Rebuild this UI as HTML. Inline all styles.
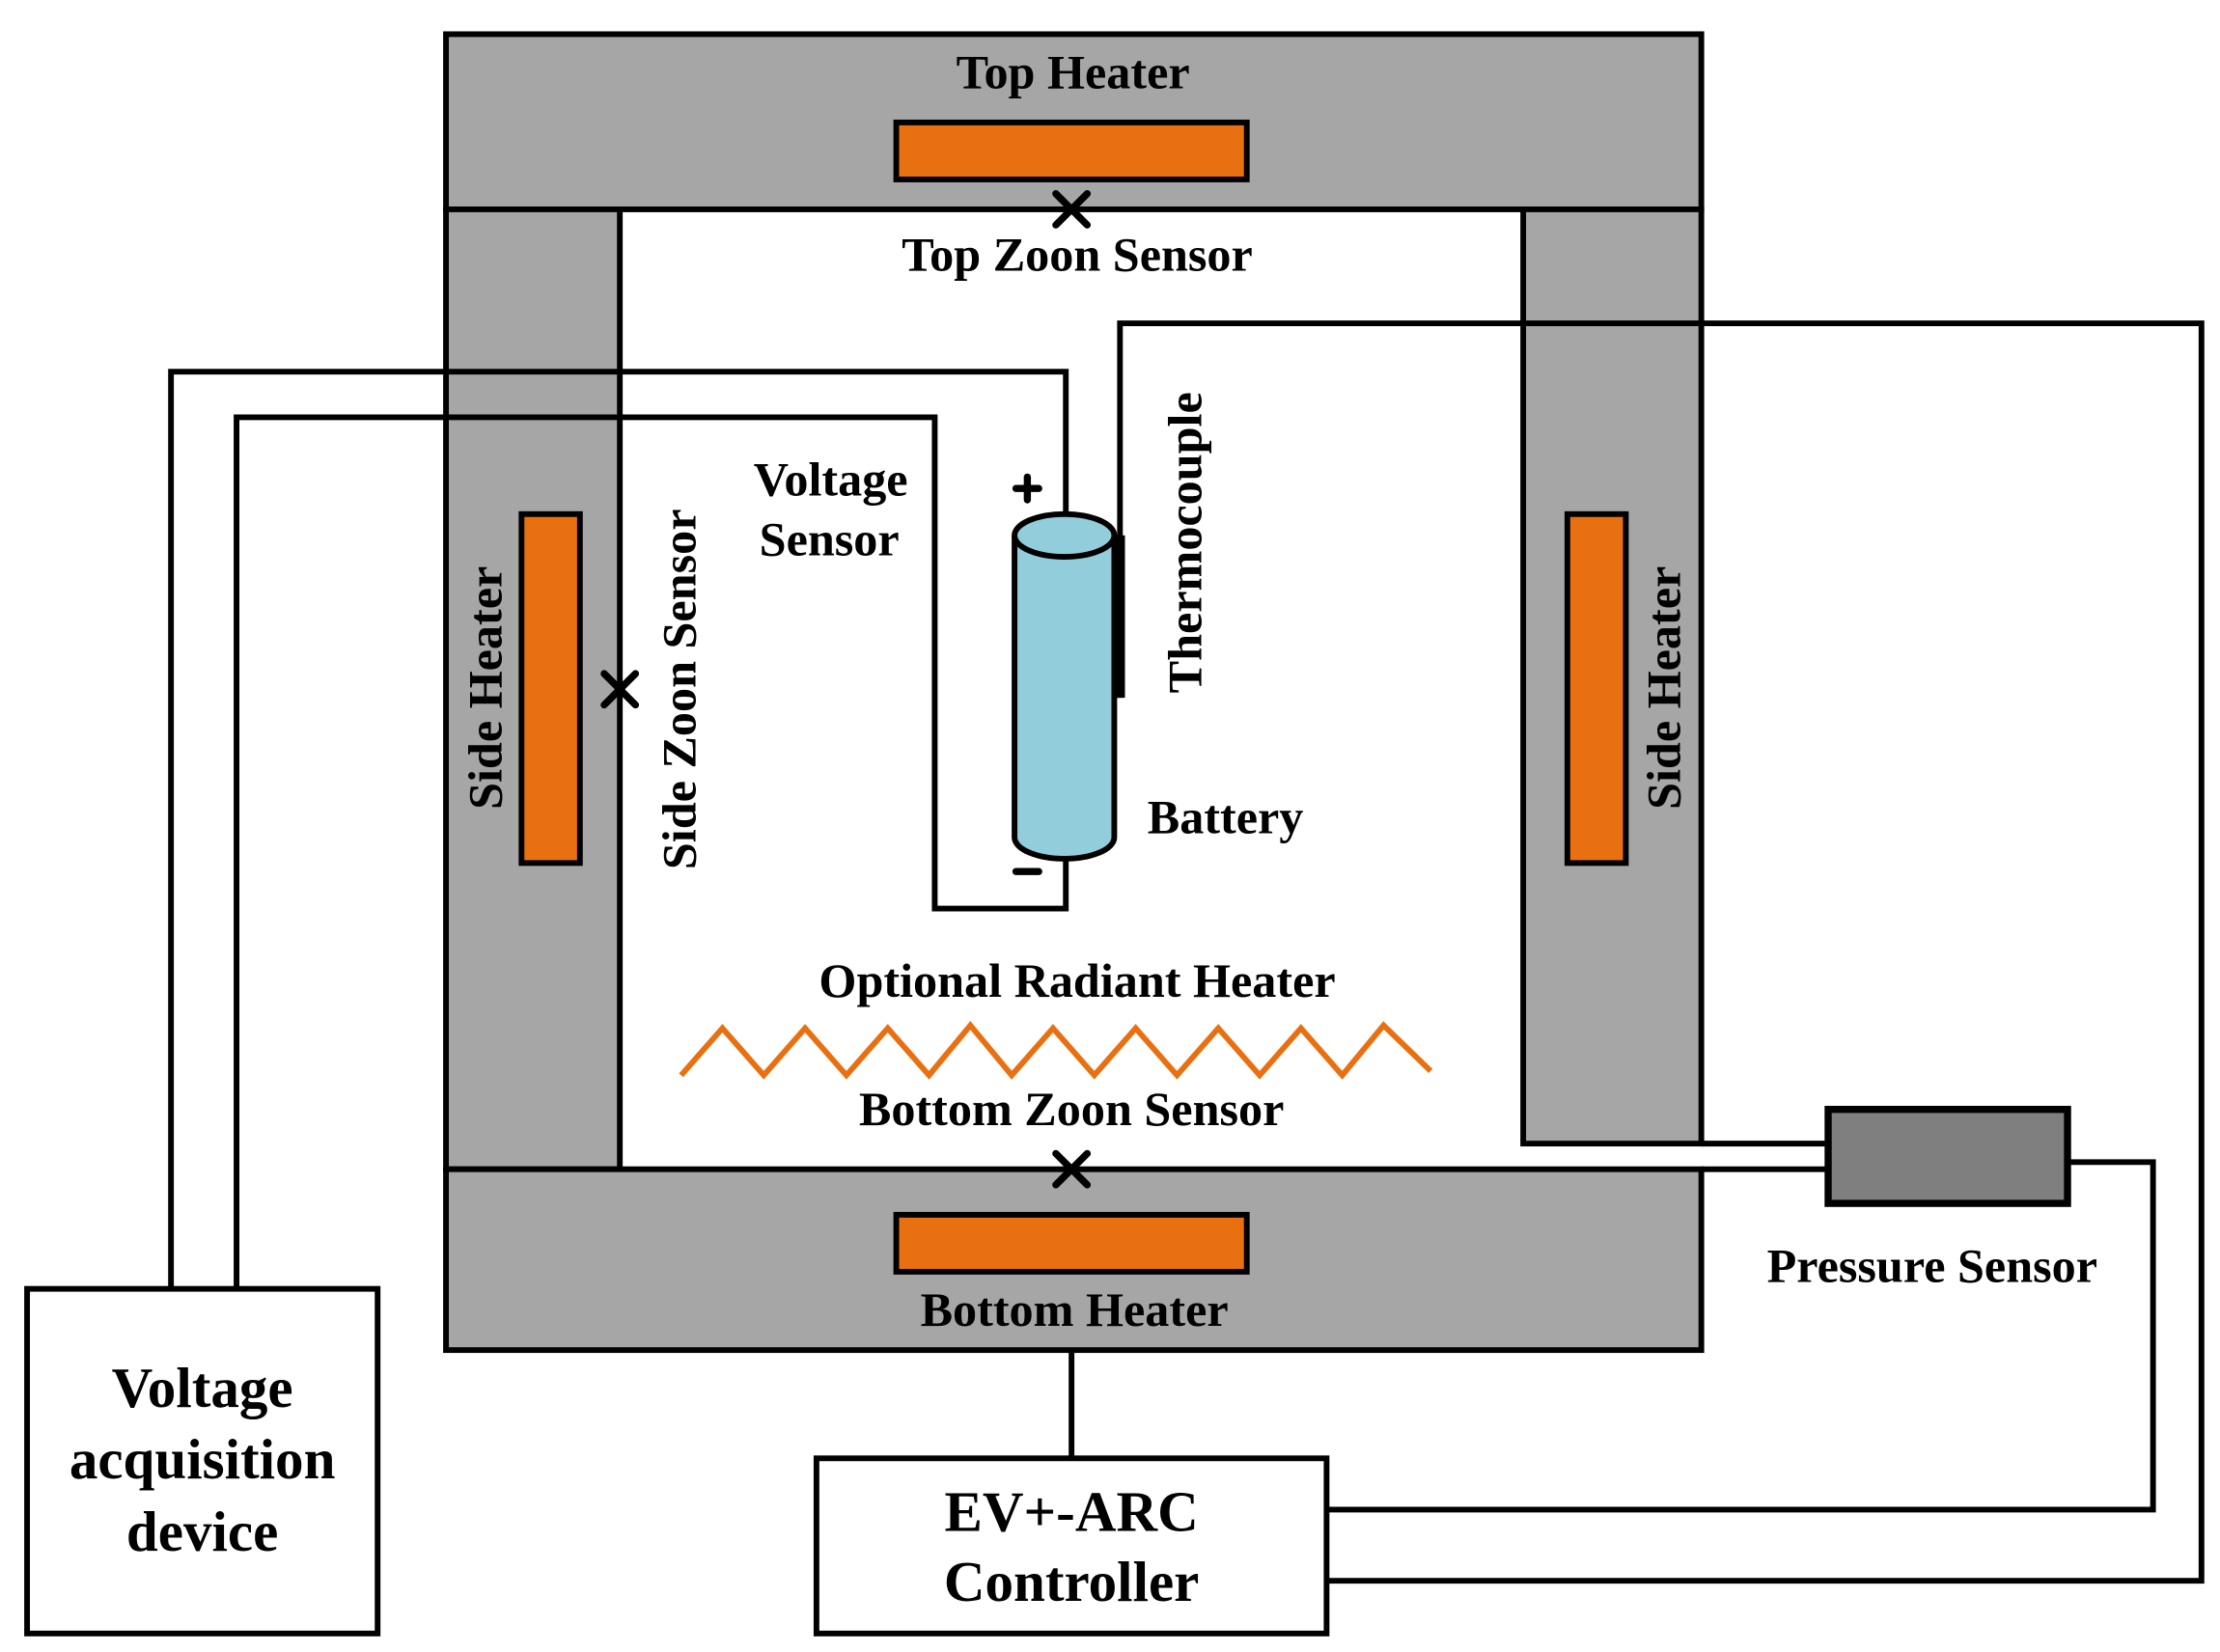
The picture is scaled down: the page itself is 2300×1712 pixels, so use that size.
<!DOCTYPE html>
<html><head><meta charset="utf-8"><style>html,body{margin:0;padding:0;background:#fff}svg{display:block}</style></head>
<body>
<svg width="2300" height="1712" viewBox="0 0 1558 1160" preserveAspectRatio="none" xmlns="http://www.w3.org/2000/svg" font-family="'Liberation Serif', serif" font-weight="bold" font-size="34">
<g stroke="#000" stroke-width="4" fill="#a6a6a6">
<rect x="313" y="24" width="881" height="123"/>
<rect x="313" y="147" width="122" height="674"/>
<rect x="1069" y="147" width="125" height="656"/>
<rect x="313" y="821" width="881" height="127"/>
</g>
<g stroke="#000" stroke-width="4" fill="#e97010">
<rect x="629" y="86" width="246" height="40"/>
<rect x="629" y="853" width="246" height="40"/>
<rect x="366" y="361" width="41" height="245"/>
<rect x="1100" y="361" width="41" height="245"/>
</g>
<g stroke="#000" stroke-width="4" fill="none">
<path d="M1194 803H1283M1194 821H1283"/>
<path d="M748 361V261H120V905"/>
<path d="M748 603V638H656V293H166V905"/>
<path d="M786 490V227H1545V1110H925"/>
<path d="M1451 816H1511V1060H932"/>
<path d="M752 948V1024"/>
</g>
<path d="M786 376V490" stroke="#000" stroke-width="7"/>
<rect x="1283" y="779" width="168" height="66" fill="#7f7f7f" stroke="#000" stroke-width="5"/>
<g stroke="#000" stroke-width="4" fill="#92cddb">
<path d="M712 376V588A35 15 0 0 0 782 588V376"/>
<ellipse cx="747" cy="376" rx="35" ry="15"/>
</g>
<g stroke="#000" stroke-width="5" stroke-linecap="round">
<path d="M741 136L763 158M763 136L741 158"/>
<path d="M741 810L763 832M763 810L741 832"/>
<path d="M424 473L446 495M446 473L424 495"/>
<path d="M713 343H729M721 335V351"/>
<path d="M713 612H729"/>
</g>
<path d="M478 755L507 722L536 755L565 722L594 755L623 722L652 755L681 720L710 755L739 722L768 755L797 722L826 755L855 722L884 755L913 722L942 755L971 720L1004 752" fill="none" stroke="#e97010" stroke-width="4"/>
<g fill="#000" text-anchor="middle">
<text x="753" y="62">Top Heater</text>
<text x="756" y="190">Top Zoon Sensor</text>
<text x="583" y="348">Voltage</text>
<text x="582" y="390">Sensor</text>
<text x="756" y="700">Optional Radiant Heater</text>
<text x="752" y="790">Bottom Zoon Sensor</text>
<text x="754" y="931">Bottom Heater</text>
<text x="1356" y="900">Pressure Sensor</text>
<text x="860" y="585">Battery</text>
<text transform="translate(843 381) rotate(-90)">Thermocouple</text>
<text transform="translate(352 483) rotate(-90)">Side Heater</text>
<text transform="translate(1179 483) rotate(-90)">Side Heater</text>
<text transform="translate(488 484) rotate(-90)">Side Zoon Sensor</text>
</g>
<rect x="19" y="905" width="246" height="242" fill="#fff" stroke="#000" stroke-width="4"/>
<rect x="573" y="1024" width="358" height="123" fill="#fff" stroke="#000" stroke-width="4"/>
<g fill="#000" text-anchor="middle" font-size="40">
<text x="142" y="988">Voltage</text>
<text x="142" y="1038">acquisition</text>
<text x="142" y="1089">device</text>
<text x="752" y="1075">EV+-ARC</text>
<text x="752" y="1124">Controller</text>
</g>
</svg>
</body></html>
